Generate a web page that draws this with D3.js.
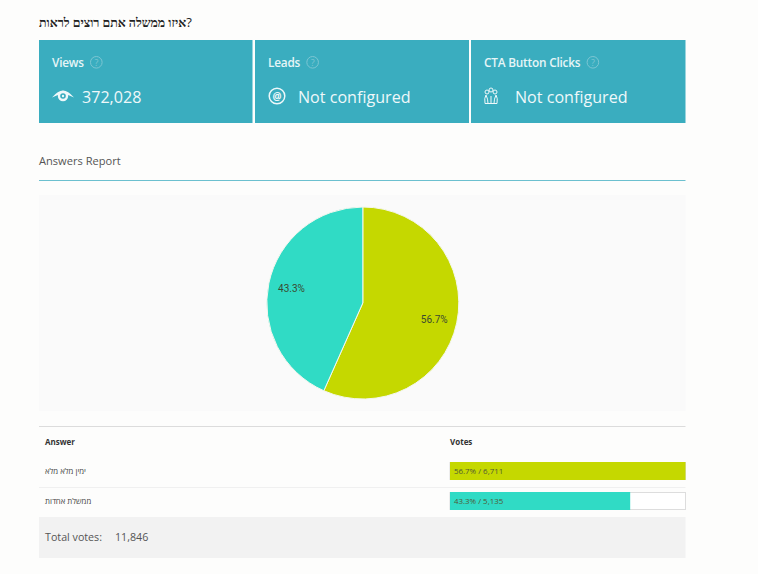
<!DOCTYPE html>
<html>
<head>
<meta charset="utf-8">
<script src="https://cdn.jsdelivr.net/npm/d3@7"></script>
<style>
html, body { margin: 0; padding: 0; background: #fdfdfc; }
svg { display: block; }
text { font-family: "Open Sans", sans-serif; }
</style>
</head>
<body>
<svg id="chart" width="758" height="574"></svg>
<script>
var answers = ["ימין מלא מלא", "ממשלת אחדות"];
var votes = [6711, 5135];
var percents = ["56.7%", "43.3%"];
var colors = ["#c5d800", "#30dbc5"];
var cardTitles = ["Views", "Leads", "CTA Button Clicks"];
var cardValues = ["372,028", "Not configured", "Not configured"];
var totalVotes = "11,846";

var svg = d3.select("#chart");
var teal = "#3aadbf";

var title = svg.append("text").attr("x", 39).attr("y", 27)
    .attr("direction", "ltr")
    .style("font-family", "'Liberation Serif', serif")
    .style("font-weight", "bold").style("font-size", "12.4px")
    .attr("fill", "#222")
    .text("איזו ממשלה אתם רוצים לראות");
title.append("tspan")
    .style("font-family", "'Open Sans', sans-serif")
    .style("font-weight", 400).style("font-size", "13px")
    .text("?");

// cards
var cardX = [39, 255, 471],
    cardW = [213.5, 214, 214.5];
var textX = [82, 298, 515];

var cards = svg.selectAll("g.card").data(cardTitles).enter().append("g")
    .attr("class", "card")
    .attr("transform", function(d, i){ return "translate(" + cardX[i] + ",40)"; });

cards.append("rect")
    .attr("width", function(d, i){ return cardW[i]; })
    .attr("height", 83)
    .attr("fill", teal);

var titles = cards.append("text")
    .attr("x", 13).attr("y", 26.5)
    .attr("fill", "#e6f5f7")
    .style("font-size", "11.8px").style("font-weight", 600)
    .style("letter-spacing", "-0.2px")
    .text(function(d){ return d; });

cards.each(function(d, i){
    var w = titles.nodes()[i].getComputedTextLength();
    var help = d3.select(this).append("g").attr("transform", "translate(" + (13 + w + 12.5) + ",22.3)");
    help.append("circle").attr("r", 5.8).attr("fill", "none").attr("stroke", "#7cc6d3").attr("stroke-width", 1);
    help.append("text").attr("y", 3.2).attr("text-anchor", "middle")
        .attr("fill", "#7cc6d3").style("font-size", "9px").text("?");
});

cards.append("text")
    .attr("x", function(d, i){ return textX[i] - cardX[i]; })
    .attr("y", 63)
    .attr("fill", "#eef8fa")
    .style("font-size", "16.1px").style("font-weight", 500)
    .text(function(d, i){ return cardValues[i]; });

// card icons
var eye = svg.append("g").attr("transform", "translate(63,96)");
eye.append("path").attr("d", "M-11,1.5 Q-5,-5.5 0,-5.5 Q5,-5.5 11,1.5 Q6,-1.5 0,-1.5 Q-6,-1.5 -11,1.5Z").attr("fill", "#eef8fa");
eye.append("circle").attr("r", 5.2).attr("fill", "#eef8fa");
eye.append("circle").attr("r", 2.8).attr("fill", teal);
eye.append("circle").attr("r", 1.2).attr("fill", "#eef8fa");

var at = svg.append("g").attr("transform", "translate(277,96)");
at.append("circle").attr("r", 7.8).attr("fill", "none").attr("stroke", "#eef8fa").attr("stroke-width", 1.5);
at.append("text").attr("y", 3.5).attr("text-anchor", "middle").attr("fill", "#eef8fa")
    .style("font-size", "10px").style("font-weight", 700).text("@");

var hand = svg.append("g").attr("transform", "translate(491,96)").attr("fill", "none").attr("stroke", "#eef8fa");
hand.append("circle").attr("cy", -6).attr("r", 2);
hand.append("circle").attr("cx", -4).attr("cy", -4).attr("r", 2);
hand.append("circle").attr("cx", 4).attr("cy", -4).attr("r", 2);
hand.append("path").attr("d", "M-6,7.5 Q-7,2 -5,-1 Q-3,3 -3,7.5 M6,7.5 Q7,2 5,-1 Q3,3 3,7.5 M-3,7.5 L3,7.5 M0,7.5 L0,0 M-6,7.5 L-3,7.5 M3,7.5 L6,7.5");

// section heading
svg.append("text").attr("x", 39).attr("y", 165)
    .attr("fill", "#555").style("font-size", "11.1px")
    .text("Answers Report");
svg.append("line").attr("x1", 39).attr("x2", 685.5).attr("y1", 180.5).attr("y2", 180.5)
    .attr("stroke", "#6cc0cf").attr("stroke-width", 1);

// pie panel
svg.append("rect").attr("x", 39).attr("y", 195).attr("width", 646.5).attr("height", 216).attr("fill", "#fafafa");

var radius = 96;
var pie = d3.pie().sort(null)(votes);
var arc = d3.arc().innerRadius(0).outerRadius(radius);
var labelArc = d3.arc().innerRadius(radius * 0.76).outerRadius(radius * 0.76);

var pieG = svg.append("g").attr("transform", "translate(362.8,303)");
pieG.selectAll("path").data(pie).enter().append("path")
    .attr("d", arc)
    .attr("fill", function(d, i){ return colors[i]; })
    .attr("stroke", "#f4f7ee").attr("stroke-width", 1);
pieG.selectAll("text").data(pie).enter().append("text")
    .attr("transform", function(d){ return "translate(" + labelArc.centroid(d) + ")"; })
    .attr("text-anchor", "middle").attr("dy", "0.45em")
    .attr("fill", "#3a4a30").style("font-family", "Roboto, sans-serif").style("font-size", "10px")
    .text(function(d, i){ return percents[i]; });

// table
svg.append("line").attr("x1", 39).attr("x2", 685.5).attr("y1", 426.5).attr("y2", 426.5)
    .attr("stroke", "#dcdcdc").attr("stroke-width", 1);

svg.append("text").attr("x", 45).attr("y", 445).attr("fill", "#333")
    .style("font-size", "8px").style("font-weight", 700).text("Answer");
svg.append("text").attr("x", 450).attr("y", 445).attr("fill", "#333")
    .style("font-size", "8px").style("font-weight", 700).text("Votes");

var barX = d3.scaleLinear().domain([0, d3.max(votes)]).range([450, 685.5]);
var rowY = d3.scalePoint().domain(answers).range([462, 492]);
var barH = 18;

var rows = svg.selectAll("g.row").data(answers).enter().append("g").attr("class", "row");

rows.append("text")
    .attr("x", 45)
    .attr("y", function(d){ return rowY(d) + 11.5; })
    .attr("fill", "#444").style("font-size", "7.8px")
    .text(function(d){ return d; });

rows.append("rect")
    .attr("x", 450).attr("y", function(d){ return rowY(d) + 0.5; })
    .attr("width", 235.5).attr("height", barH - 1)
    .attr("fill", "#fff").attr("stroke", "#dddddd");

rows.append("rect")
    .attr("x", barX(0)).attr("y", function(d){ return rowY(d); })
    .attr("width", function(d, i){ return barX(votes[i]) - barX(0); })
    .attr("height", barH)
    .attr("fill", function(d, i){ return colors[i]; });

rows.append("text")
    .attr("x", 454)
    .attr("y", function(d){ return rowY(d) + 12; })
    .attr("fill", "#4f5a35").style("font-size", "7.9px")
    .text(function(d, i){ return percents[i] + " / " + d3.format(",")(votes[i]); });

svg.append("line").attr("x1", 39).attr("x2", 685.5).attr("y1", 487.5).attr("y2", 487.5)
    .attr("stroke", "#f0f0f0");

// total
svg.append("rect").attr("x", 39).attr("y", 517).attr("width", 646.5).attr("height", 41).attr("fill", "#f2f2f2");
svg.append("text").attr("x", 45).attr("y", 541).attr("fill", "#555")
    .style("font-size", "10.7px").text("Total votes:");
svg.append("text").attr("x", 115).attr("y", 541).attr("fill", "#555")
    .style("font-size", "10.7px").text(totalVotes);
</script>
</body>
</html>
